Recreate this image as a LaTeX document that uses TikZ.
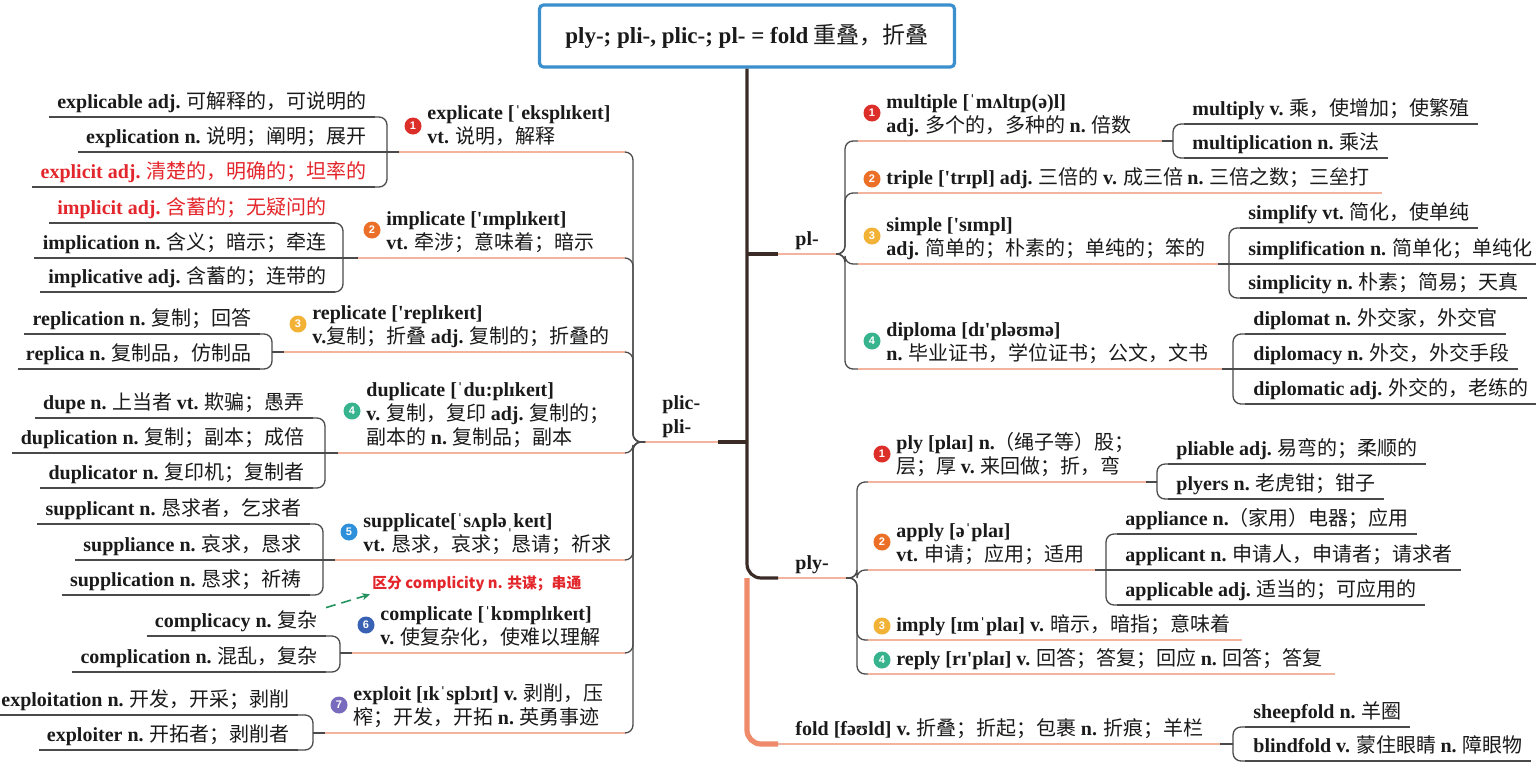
\documentclass[tikz,border=0pt]{standalone}
\usepackage{fontspec}
\setmainfont{Noto Sans CJK SC}
\newfontfamily\enfont{Liberation Serif}
\newfontfamily\numfont{Liberation Sans}
\usepackage{xcolor}
\definecolor{spine}{HTML}{3B2B27}
\definecolor{conngray}{HTML}{4A4A4A}
\definecolor{salmon}{HTML}{F2B49C}
\definecolor{foldorange}{HTML}{EF8A6A}
\definecolor{titleblue}{HTML}{3B8FCC}
\definecolor{hired}{HTML}{E3262B}
\definecolor{dashgreen}{HTML}{23925F}
\definecolor{textblack}{HTML}{1A1A1A}
\definecolor{bred}{HTML}{DC2F2A}
\definecolor{borange}{HTML}{EC6F27}
\definecolor{byellow}{HTML}{F2B236}
\definecolor{bteal}{HTML}{37B48E}
\definecolor{bblue}{HTML}{2E8FDB}
\definecolor{bdblue}{HTML}{3962B4}
\definecolor{bpurple}{HTML}{786BBE}
\usetikzlibrary{arrows.meta, positioning}
\newcommand\ew[1]{{\enfont\bfseries #1}}
\tikzset{
  rootbox/.style={rectangle, rounded corners=2pt, draw=titleblue, line width=1.6pt, fill=white,
                  minimum width=207.5pt, minimum height=31pt, font=\fontsize{11.5}{14}\selectfont},
  branch/.style={align=left, inner xsep=8.5pt, inner ysep=1.2pt, text depth=3pt,
                 append after command={(\tikzlastnode.south west) edge[wline] (\tikzlastnode.south east)}},
  word/.style={anchor=south west, align=left, inner xsep=0pt, inner ysep=1.2pt, text depth=3pt},
  subl/.style={anchor=south east, inner xsep=4pt, inner ysep=1.2pt, text depth=3pt,
               append after command={(\tikzlastnode.south west) edge[subline] (\tikzlastnode.south east)}},
  subr/.style={subl, anchor=south west},
  badge/.style={circle, fill=#1, text=white, inner sep=0pt, minimum size=8.5pt,
                font=\numfont\bfseries\fontsize{5.5}{6}\selectfont},
  note/.style={anchor=west, inner sep=1pt, text=hired, font=\bfseries\fontsize{7.4}{9}\selectfont},
  stem/.style={draw=spine, line width=1.6pt, rounded corners=7pt},
  foldstem/.style={draw=foldorange, line width=2.6pt, rounded corners=7pt},
  conn/.style={draw=conngray, line width=0.65pt, rounded corners=4pt},
  wline/.style={draw=salmon, line width=0.8pt},
  subline/.style={draw=conngray, line width=0.65pt},
  cfarr/.style={draw=dashgreen, line width=0.8pt, dash pattern=on 5pt off 3pt, -{Stealth[length=4pt, width=3.5pt]}},
}
\begin{document}
\begin{tikzpicture}[x=0.5pt, y=-0.5pt, font=\fontsize{10}{12}\selectfont, text=textblack]
  \useasboundingbox (0,0) rectangle (1536,766);
  % root and first level
  \node[rootbox] (root) at (747,36) {\ew{ply-; pli-, plic-; pl- = fold} 重叠，折叠};
  \node[branch, anchor=south west] (pl) at (778,254) {\ew{pl-}};
  \node[branch, anchor=south west] (plic) at (645,442) {\ew{plic-}\\\ew{pli-}};
  \node[branch, anchor=south west] (ply) at (778,578) {\ew{ply-}};
  \node[branch, anchor=south west] (fold) at (778,744) {\ew{fold [fəʊld] v.} 折叠；折起；包裹 \ew{n.} 折痕；羊栏};
  \draw[foldstem] (root.south |- ply.south) |- (fold.south west);
  \draw[stem] (root.south) |- (ply.south west);
  \draw[stem] (root.south |- pl.south) -- (pl.south west);
  \draw[stem] (root.south |- plic.south) -- (plic.south east);

  % plic- / pli-
  \node[word] (w1) at (427,152) {\ew{explicate [ˈeksplɪkeɪt]}\\\ew{vt.} 说明，解释};
  \node[word] (w2) at (386,258) {\ew{implicate ['ɪmplɪkeɪt]}\\\ew{vt.} 牵涉；意味着；暗示};
  \node[word] (w3) at (312,352) {\ew{replicate ['replɪkeɪt]}\\\ew{v.}复制；折叠 \ew{adj.} 复制的；折叠的};
  \node[word] (w4) at (366,453) {\ew{duplicate [ˈdu:plɪkeɪt]}\\\ew{v.} 复制，复印 \ew{adj.} 复制的；\\副本的 \ew{n.} 复制品；副本};
  \node[word] (w5) at (363,560) {\ew{supplicate[ˈsʌpləˌkeɪt]}\\\ew{vt.} 恳求，哀求；恳请；祈求};
  \node[word] (w6) at (380,653) {\ew{complicate [ˈkɒmplɪkeɪt]}\\\ew{v.} 使复杂化，使难以理解};
  \node[word] (w7) at (353,733) {\ew{exploit [ɪkˈsplɔɪt] v.} 剥削，压\\榨；开发，开拓 \ew{n.} 英勇事迹};
  \node[badge=bred] (b1) at ([shift={(-7pt,13pt)}]w1.south west) {1};
  \node[badge=borange] (b2) at ([shift={(-7pt,14pt)}]w2.south west) {2};
  \node[badge=byellow] (b3) at ([shift={(-7pt,14pt)}]w3.south west) {3};
  \node[badge=bteal] (b4) at ([shift={(-7pt,21pt)}]w4.south west) {4};
  \node[badge=bblue] (b5) at ([shift={(-7pt,14pt)}]w5.south west) {5};
  \node[badge=bdblue] (b6) at ([shift={(-7pt,14pt)}]w6.south west) {6};
  \node[badge=bpurple] (b7) at ([shift={(-7pt,14pt)}]w7.south west) {7};
  \coordinate (lk) at (633,442);
  \foreach \w in {w1,w2,w3,w4,w5,w6,w7} {
    \draw[wline] ([xshift=-14pt]\w.south west) -- ([xshift=-4pt]\w.south -| lk);
    \draw[conn] (plic.south west) -- (lk) |- ([xshift=-4pt]\w.south -| lk);
  }

  \node[subl] (w1a) at (375,117) {\ew{explicable adj.} 可解释的，可说明的};
  \node[subl] (w1b) at (375,152) {\ew{explication n.} 说明；阐明；展开};
  \node[subl, text=hired] (w1c) at (375,187) {\ew{explicit adj.} 清楚的，明确的；坦率的};
  \node[subl, text=hired] (w2a) at (335,223) {\ew{implicit adj.} 含蓄的；无疑问的};
  \node[subl] (w2b) at (335,258) {\ew{implication n.} 含义；暗示；牵连};
  \node[subl] (w2c) at (335,292) {\ew{implicative adj.} 含蓄的；连带的};
  \node[subl] (w3a) at (260,334) {\ew{replication n.} 复制；回答};
  \node[subl] (w3b) at (260,369) {\ew{replica n.} 复制品，仿制品};
  \node[subl] (w4a) at (313,418) {\ew{dupe n.} 上当者 \ew{vt.} 欺骗；愚弄};
  \node[subl] (w4b) at (313,453) {\ew{duplication n.} 复制；副本；成倍};
  \node[subl] (w4c) at (313,488) {\ew{duplicator n.} 复印机；复制者};
  \node[subl] (w5a) at (310,524) {\ew{supplicant n.} 恳求者，乞求者};
  \node[subl] (w5b) at (310,560) {\ew{suppliance n.} 哀求，恳求};
  \node[subl] (w5c) at (310,595) {\ew{supplication n.} 恳求；祈祷};
  \node[subl] (w6a) at (326,636) {\ew{complicacy n.} 复杂};
  \node[subl] (w6b) at (326,672) {\ew{complication n.} 混乱，复杂};
  \node[subl] (w7a) at (298,715) {\ew{exploitation n.} 开发，开采；剥削};
  \node[subl] (w7b) at (298,750) {\ew{exploiter n.} 开拓者；剥削者};
  \coordinate (w1k) at (387,152);
  \coordinate (w2k) at (343,258);
  \coordinate (w3k) at (272,352);
  \coordinate (w4k) at (325,453);
  \coordinate (w5k) at (323,560);
  \coordinate (w6k) at (340,653);
  \coordinate (w7k) at (313,733);
  \foreach \w in {w1,w2,w3,w4,w5,w6,w7}
    \draw[conn] ([xshift=-14pt]\w.south west) -- (\w k);
  \foreach \w/\c in {w1/w1a,w1/w1c,w2/w2a,w2/w2c,w3/w3a,w3/w3b,w4/w4a,w4/w4c,
                     w5/w5a,w5/w5c,w6/w6a,w6/w6b,w7/w7a,w7/w7b}
    \draw[conn] (\w k) |- (\c.south east);
  \foreach \w/\c in {w1/w1b,w2/w2b,w4/w4b,w5/w5b}
    \draw[conn] (\w k) -- (\c.south east);

  \node[note] (cf) at (370,584) {区分 complicity n. 共谋；串通};
  \draw[cfarr] (w6a.north east) -- (cf.south west);

  % pl-
  \node[word] (m1) at (886,141) {\ew{multiple [ˈmʌltɪp(ə)l]}\\\ew{adj.} 多个的，多种的 \ew{n.} 倍数};
  \node[word] (m2) at (886,193) {\ew{triple ['trɪpl] adj.} 三倍的 \ew{v.} 成三倍 \ew{n.} 三倍之数；三垒打};
  \node[word] (m3) at (886,264) {\ew{simple ['sɪmpl]}\\\ew{adj.} 简单的；朴素的；单纯的；笨的};
  \node[word] (m4) at (886,369) {\ew{diploma [dɪ'pləʊmə]}\\\ew{n.} 毕业证书，学位证书；公文，文书};
  \node[badge=bred] (c1) at ([shift={(-7pt,14pt)}]m1.south west) {1};
  \node[badge=borange] (c2) at ([shift={(-7pt,7pt)}]m2.south west) {2};
  \node[badge=byellow] (c3) at ([shift={(-7pt,14pt)}]m3.south west) {3};
  \node[badge=bteal] (c4) at ([shift={(-7pt,14pt)}]m4.south west) {4};
  \coordinate (rk1) at (845,254);
  \foreach \w in {m1,m2,m3,m4}
    \draw[conn] (pl.south east) -- (rk1) |- ([xshift=-14pt]\w.south west);

  \node[subr] (m1a) at (1184,124) {\ew{multiply v.} 乘，使增加；使繁殖};
  \node[subr] (m1b) at (1184,158) {\ew{multiplication n.} 乘法};
  \node[subr] (m3a) at (1240,228) {\ew{simplify vt.} 简化，使单纯};
  \node[subr] (m3b) at (1240,264) {\ew{simplification n.} 简单化；单纯化};
  \node[subr] (m3c) at (1240,298) {\ew{simplicity n.} 朴素；简易；天真};
  \node[subr] (m4a) at (1245,334) {\ew{diplomat n.} 外交家，外交官};
  \node[subr] (m4b) at (1245,369) {\ew{diplomacy n.} 外交，外交手段};
  \node[subr] (m4c) at (1245,404) {\ew{diplomatic adj.} 外交的，老练的};
  \coordinate (m1k) at (1173,141);
  \coordinate (m3k) at (1229,264);
  \coordinate (m4k) at (1233,369);

  % ply-
  \node[word] (p1) at (896,482) {\ew{ply [plaɪ] n.}（绳子等）股；\\层；厚 \ew{v.} 来回做；折，弯};
  \node[word] (p2) at (896,570) {\ew{apply [əˈplaɪ]}\\\ew{vt.} 申请；应用；适用};
  \node[word] (p3) at (896,640) {\ew{imply [ɪmˈplaɪ] v.} 暗示，暗指；意味着};
  \node[word] (p4) at (896,674) {\ew{reply [rɪ'plaɪ] v.} 回答；答复；回应 \ew{n.} 回答；答复};
  \node[badge=bred] (d1) at ([shift={(-7pt,14pt)}]p1.south west) {1};
  \node[badge=borange] (d2) at ([shift={(-7pt,14pt)}]p2.south west) {2};
  \node[badge=byellow] (d3) at ([shift={(-7pt,7pt)}]p3.south west) {3};
  \node[badge=bteal] (d4) at ([shift={(-7pt,7pt)}]p4.south west) {4};
  \coordinate (rk2) at (857,578);
  \foreach \w in {p1,p2,p3,p4}
    \draw[conn] (ply.south east) -- (rk2) |- ([xshift=-14pt]\w.south west);

  \node[subr] (p1a) at (1168,464) {\ew{pliable adj.} 易弯的；柔顺的};
  \node[subr] (p1b) at (1168,499) {\ew{plyers n.} 老虎钳；钳子};
  \node[subr] (p2a) at (1117,534) {\ew{appliance n.}（家用）电器；应用};
  \node[subr] (p2b) at (1117,570) {\ew{applicant n.} 申请人，申请者；请求者};
  \node[subr] (p2c) at (1117,605) {\ew{applicable adj.} 适当的；可应用的};
  \coordinate (p1k) at (1157,482);
  \coordinate (p2k) at (1106,570);

  % underlines and brackets of the right words
  \foreach \w in {m1,m3,m4,p1,p2} {
    \draw[wline] ([xshift=-14pt]\w.south west) -- ([xshift=-5.5pt]\w k);
    \draw[conn] ([xshift=-5.5pt]\w k) -- (\w k);
  }
  \foreach \w in {m2,p3,p4}
    \draw[wline] ([xshift=-14pt]\w.south west) -- ([xshift=6pt]\w.south east);
  \foreach \w/\c in {m1/m1a,m1/m1b,m3/m3a,m3/m3c,m4/m4a,m4/m4c,p1/p1a,p1/p1b,p2/p2a,p2/p2c}
    \draw[conn] (\w k) |- (\c.south west);
  \foreach \w/\c in {m3/m3b,m4/m4b,p2/p2b}
    \draw[conn] (\w k) -- (\c.south west);

  % fold
  \node[subr] (f1) at (1245,727) {\ew{sheepfold n.} 羊圈};
  \node[subr] (f2) at (1245,761) {\ew{blindfold v.} 蒙住眼睛 \ew{n.} 障眼物};
  \coordinate (fk) at (1233,744);
  \draw[conn] (fold.south east) -- (fk);
  \draw[conn] (fk) |- (f1.south west);
  \draw[conn] (fk) |- (f2.south west);
\end{tikzpicture}
\end{document}
